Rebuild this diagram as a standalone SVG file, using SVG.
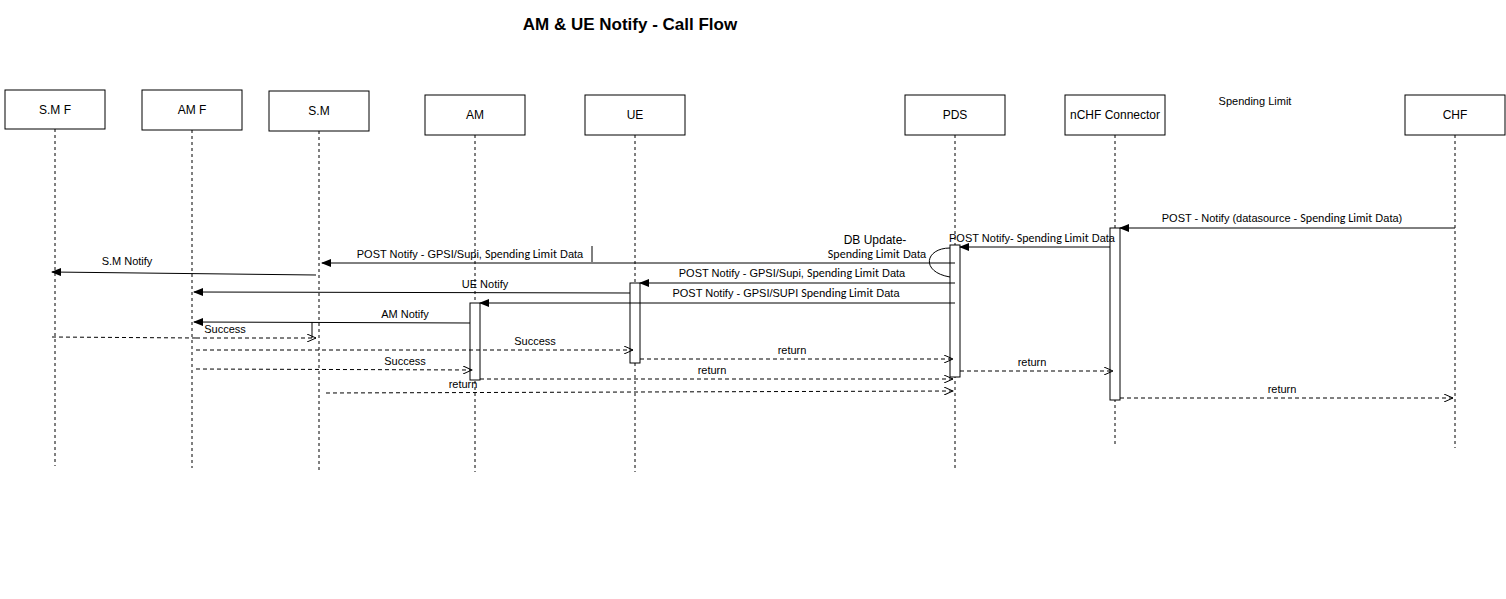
<svg xmlns="http://www.w3.org/2000/svg" width="1506" height="599" viewBox="0 0 1506 599">
<defs>
<marker id="fa" markerWidth="10" markerHeight="8" refX="9" refY="4" orient="auto" markerUnits="userSpaceOnUse"><path d="M0,0 L10,4 L0,8 Z" fill="#000"/></marker>
<marker id="oa" markerWidth="10" markerHeight="8" refX="9" refY="4" orient="auto" markerUnits="userSpaceOnUse"><path d="M0,0 L9,4 L0,8" fill="none" stroke="#000"/></marker>
</defs>
<style>
text{font-family:"Liberation Sans",Arial,sans-serif;font-size:11px;fill:#000}
.box{fill:#fff;stroke:#000;stroke-width:1}
.t{font-size:12px;text-anchor:middle}
.life{stroke:#000;stroke-dasharray:3,3;fill:none}
.act{fill:#fff;stroke:#000}
.m{stroke:#000;fill:none;marker-end:url(#fa)}
.r{stroke:#000;fill:none;stroke-dasharray:4,3;marker-end:url(#oa)}
.l{text-anchor:middle}
.c{font-family:Calibri,Carlito,"Liberation Sans",sans-serif;font-size:12px}
</style>
<rect width="1506" height="599" fill="#fff"/>
<text x="630" y="30" class="t" style="font-size:17px;font-weight:bold">AM &amp; UE Notify - Call Flow</text>
<text x="1255" y="105" class="l">Spending Limit</text>
<g id="lifelines">
<line class="life" x1="55" y1="129" x2="55" y2="466"/>
<line class="life" x1="192" y1="130" x2="192" y2="468"/>
<line class="life" x1="319" y1="131" x2="319" y2="472"/>
<line class="life" x1="475" y1="135" x2="475" y2="472"/>
<line class="life" x1="635" y1="135" x2="635" y2="472"/>
<line class="life" x1="955" y1="135" x2="955" y2="470"/>
<line class="life" x1="1115" y1="135" x2="1115" y2="446"/>
<line class="life" x1="1455" y1="135" x2="1455" y2="448"/>
</g>
<g id="smf"><rect class="box" x="5" y="90" width="100" height="39"/><text class="t" x="55" y="114">S.M F</text></g>
<g id="amf"><rect class="box" x="142" y="90" width="100" height="40"/><text class="t" x="192" y="114">AM F</text></g>
<g id="sm"><rect class="box" x="269" y="91" width="100" height="40"/><text class="t" x="319" y="115">S.M</text></g>
<g id="am"><rect class="box" x="425" y="95" width="100" height="40"/><text class="t" x="475" y="119">AM</text></g>
<g id="ue"><rect class="box" x="585" y="95" width="100" height="40"/><text class="t" x="635" y="119">UE</text></g>
<g id="pds"><rect class="box" x="905" y="95" width="100" height="40"/><text class="t" x="955" y="119">PDS</text></g>
<g id="nchf"><rect class="box" x="1065" y="95" width="100" height="40"/><text class="t" x="1115" y="119">nCHF Connector</text></g>
<g id="chf"><rect class="box" x="1405" y="95" width="100" height="40"/><text class="t" x="1455" y="119">CHF</text></g>
<g id="activations">
<rect class="act" x="1110" y="228" width="10" height="172"/>
<rect class="act" x="950" y="245" width="10" height="132"/>
<rect class="act" x="630" y="283" width="10" height="80"/>
<rect class="act" x="470" y="303" width="10" height="77"/>
</g>
<g id="connectors">
<line class="m" x1="1455" y1="228" x2="1120" y2="228"/>
<text x="1282" y="222" class="l">POST - Notify (datasource - <tspan class="c">Spending Limit</tspan>  Data)</text>
<line class="m" x1="1110" y1="247" x2="960" y2="247"/>
<text x="1032" y="242" class="l">POST Notify- <tspan class="c">Spending Limit</tspan>  Data</text>
<path d="M950,248 C925,248 920,272 950,277" stroke="#000" fill="none"/>
<text x="875" y="244" class="l" style="font-size:12px">DB Update-</text>
<text x="877" y="258" class="l"><tspan class="c">Spending Limit</tspan>  Data</text>
<line class="m" x1="955" y1="263" x2="322" y2="263"/>
<text x="470" y="258" class="l">POST Notify - GPSI/Supi, <tspan class="c">Spending Limit</tspan>  Data</text>
<line x1="592" y1="246" x2="592" y2="262" stroke="#000"/>
<line class="m" x1="316" y1="275" x2="52" y2="272"/>
<text x="127" y="265" class="l">S.M  Notify</text>
<line class="m" x1="955" y1="283" x2="640" y2="283"/>
<text x="792" y="277" class="l">POST Notify - GPSI/Supi, <tspan class="c">Spending Limit</tspan>  Data</text>
<line class="m" x1="630" y1="293" x2="194" y2="292"/>
<text x="485" y="288" class="l">UE Notify</text>
<line class="m" x1="955" y1="303" x2="480" y2="303"/>
<text x="786" y="297" class="l">POST Notify - GPSI/SUPI <tspan class="c">Spending Limit</tspan>  Data</text>
<line class="m" x1="470" y1="323" x2="194" y2="322"/>
<text x="405" y="318" class="l">AM Notify</text>
<line x1="312" y1="322" x2="312" y2="338" stroke="#000"/>
<line class="r" x1="196" y1="338" x2="316" y2="338"/>
<text x="225" y="333" class="l">Success</text>
<line x1="52" y1="337" x2="196" y2="338" stroke="#000" stroke-dasharray="4,3"/>
<line class="r" x1="196" y1="350" x2="633" y2="350"/>
<text x="535" y="345" class="l">Success</text>
<line class="r" x1="640" y1="359" x2="953" y2="359"/>
<text x="792" y="354" class="l">return</text>
<line class="r" x1="196" y1="369" x2="472" y2="370"/>
<text x="405" y="365" class="l">Success</text>
<line class="r" x1="960" y1="371" x2="1113" y2="371"/>
<text x="1032" y="366" class="l">return</text>
<line class="r" x1="480" y1="379" x2="953" y2="379"/>
<text x="712" y="374" class="l">return</text>
<line class="r" x1="326" y1="393" x2="953" y2="391"/>
<text x="463" y="388" class="l">return</text>
<line class="r" x1="1120" y1="398" x2="1453" y2="398"/>
<text x="1282" y="393" class="l">return</text>
</g>
</svg>
